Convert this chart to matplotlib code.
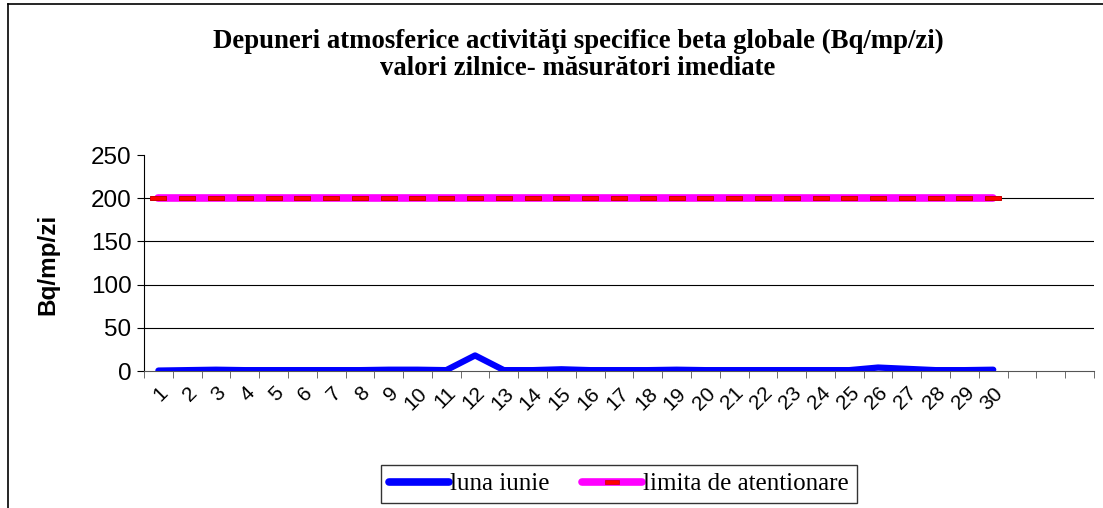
import matplotlib
matplotlib.use("Agg")
import matplotlib.pyplot as plt
from matplotlib.lines import Line2D
from matplotlib.path import Path
import numpy as np

days = [str(d) for d in range(1, 31)]
n_slots = 33
luna_iunie = [0.5, 1, 1.5, 1, 1, 1, 1, 1, 1.5, 1.5, 1, 18, 1, 1, 2, 1, 1, 1, 1.5, 1,
              1, 1, 1, 1, 1, 4, 2.5, 1, 1, 1.5]
limita = [200] * 30
yticks = [0, 50, 100, 150, 200, 250]

title = "Depuneri atmosferice activităţi specifice beta globale (Bq/mp/zi)\nvalori zilnice- măsurători imediate"

W, H = 1103, 508
fig = plt.figure(figsize=(W / 100, H / 100), dpi=100)
ax = fig.add_axes([144 / W, 1 - 371 / H, (1094 - 144) / W, (371 - 155) / H])

x = np.arange(1, len(days) + 1)
rect = Path([(-1, -0.26), (1, -0.26), (1, 0.26), (-1, 0.26), (-1, -0.26)],
            [Path.MOVETO, Path.LINETO, Path.LINETO, Path.LINETO, Path.CLOSEPOLY])

ax.plot(x, limita, color="#FF00FF", lw=5.5, solid_capstyle="round", zorder=3)
ax.plot(x, limita, color="none", marker=rect, markersize=11, markerfacecolor="#FF0000",
        markeredgecolor="#CC0000", markeredgewidth=0.7, zorder=4)
ax.plot(x, luna_iunie, color="#0000FF", lw=4.5, solid_capstyle="round",
        solid_joinstyle="round", zorder=5)

ax.set_xlim(0.5, n_slots + 0.5)
ax.set_ylim(0, 250)
ax.set_yticks(yticks)
ax.set_yticklabels([str(v) for v in yticks], fontfamily="Liberation Sans", fontsize=17.5)
for v in yticks[1:-1]:
    ax.axhline(v, color="black", lw=0.8, zorder=1)

ax.set_xticks(x)
ax.set_xticklabels(days, rotation=45, ha="right", rotation_mode="anchor",
                   fontfamily="Liberation Sans", fontsize=15)
ax.tick_params(axis="x", which="major", length=0, pad=9)
ax.set_xticks(np.arange(0.5, n_slots + 1, 1), minor=True)
ax.tick_params(axis="x", which="minor", length=5, direction="out", color="#555555")
ax.tick_params(axis="y", length=5, direction="out", pad=4)

ax.spines["top"].set_visible(False)
ax.spines["right"].set_visible(False)
ax.spines["left"].set_color("black")
ax.spines["bottom"].set_color("#555555")
fig.text(48 / W, 1 - 264 / H, "Bq/mp/zi", rotation=90, ha="center", va="center",
         fontfamily="Liberation Sans", fontweight="bold", fontsize=17.5)

fig.text(578 / W, 1 - 55 / H, title, ha="center", va="center", fontfamily="Liberation Serif",
         fontweight="bold", fontsize=19.3, linespacing=1.12)

handles = [Line2D([], [], color="#0000FF", lw=5.5, solid_capstyle="round"),
           Line2D([0, 1, 2], [0, 0, 0], color="#FF00FF", lw=5.5, solid_capstyle="round",
                  marker=rect, markersize=10, markerfacecolor="#FF0000",
                  markeredgecolor="#CC0000", markeredgewidth=0.5, markevery=[1])]
leg = fig.legend(handles, ["luna iunie", "limita de atentionare"], ncol=2,
                 loc="center", bbox_to_anchor=(619 / W, 1 - 484 / H),
                 prop={"family": "Liberation Serif", "size": 18}, frameon=True,
                 fancybox=False, edgecolor="black", handlelength=2.4, handletextpad=0.05,
                 columnspacing=1.3, borderpad=0.3)
leg.get_frame().set_linewidth(1.0)

fig.add_artist(Line2D([8 / W, 1.0], [1 - 4 / H, 1 - 4 / H], color="black", lw=1.2,
                      transform=fig.transFigure))
fig.add_artist(Line2D([8 / W, 8 / W], [0, 1 - 4 / H], color="black", lw=1.2,
                      transform=fig.transFigure))

fig.savefig("out.png", dpi=100)
